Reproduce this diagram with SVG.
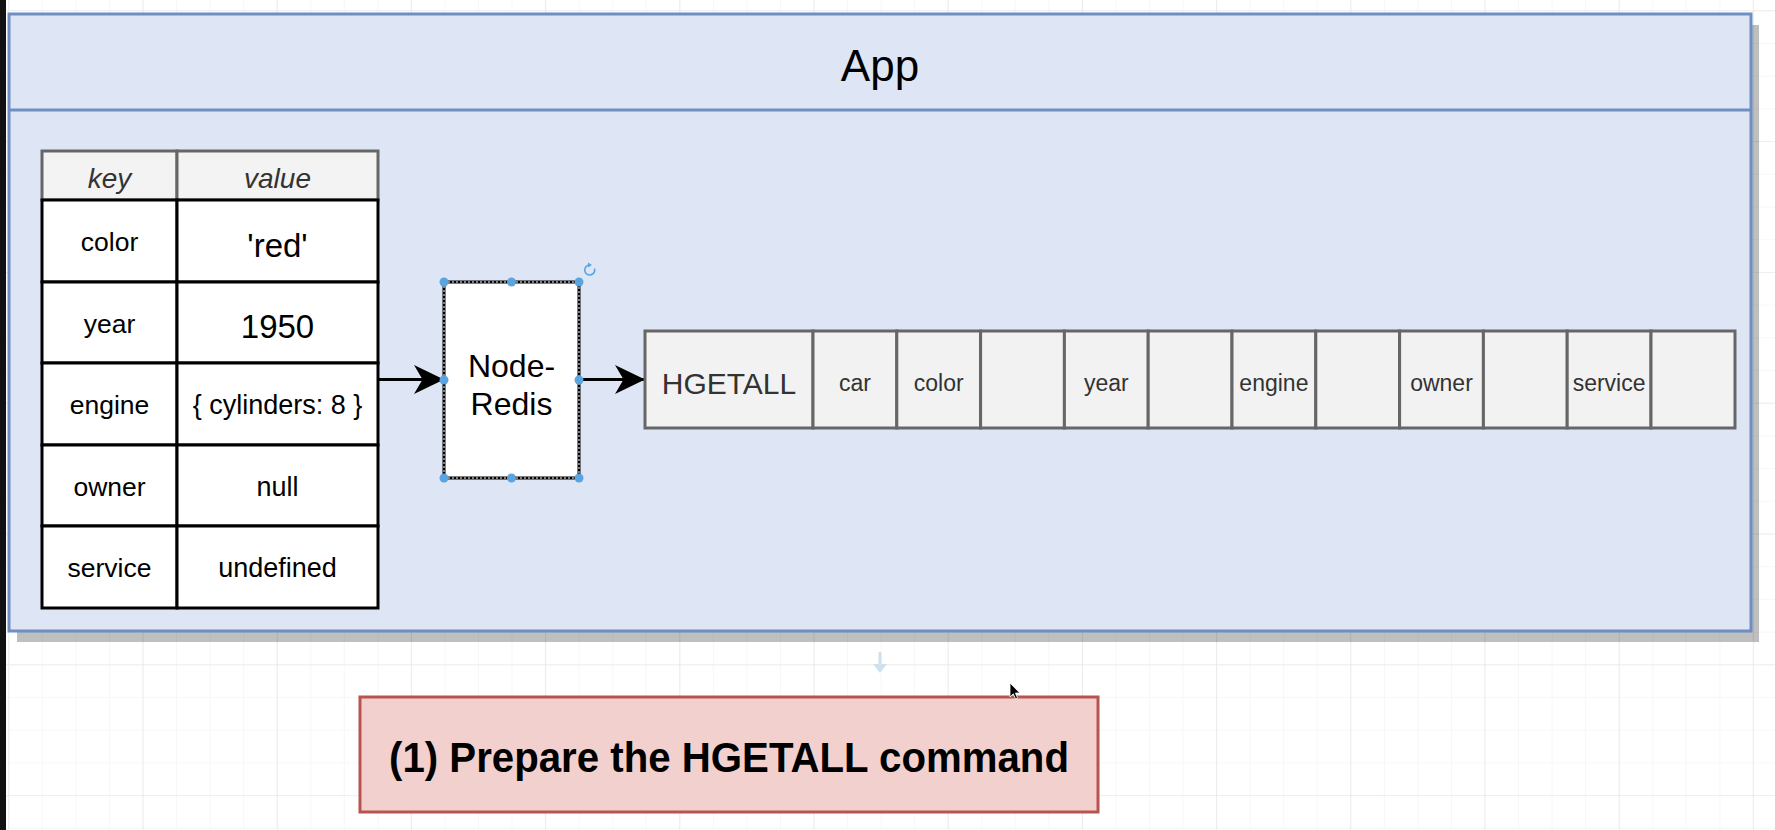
<svg xmlns="http://www.w3.org/2000/svg" width="1775" height="830" viewBox="0 0 1775 830">
  <defs>
    <pattern id="gridMinor" patternUnits="userSpaceOnUse" x="8.3" y="10.3" width="33.55" height="32.7">
      <path d="M0 0V32.7M0 0H33.55" fill="none" stroke="#efefef" stroke-width="1"/>
    </pattern>
    <pattern id="gridMajor" patternUnits="userSpaceOnUse" x="8.3" y="10.3" width="134.2" height="130.8">
      <path d="M0 0V130.8M0 0H134.2" fill="none" stroke="#e3e3e3" stroke-width="1.2"/>
    </pattern>
    <marker id="classic" viewBox="0 0 30 30" refX="30" refY="15" markerWidth="30" markerHeight="30" markerUnits="userSpaceOnUse" orient="auto">
      <path d="M30 15L0 0.5L8.5 15L0 29.5Z" fill="#000"/>
    </marker>
    <style>
      .sans { font-family: "Liberation Sans", Arial, Helvetica, sans-serif; }
      .cell-head { fill: #f3f3f3; stroke: #666; stroke-width: 3; }
      .cell { fill: #fff; stroke: #000; stroke-width: 3; }
      .slot { fill: #f2f2f2; stroke: #666; stroke-width: 3; }
      .head-txt { font-size: 28px; font-style: italic; fill: #333; text-anchor: middle; }
      .key-txt { font-size: 26.5px; fill: #000; text-anchor: middle; }
      .val-txt { font-size: 27px; fill: #000; text-anchor: middle; }
      .big-txt { font-size: 33px; fill: #000; text-anchor: middle; }
      .slot-txt { font-size: 23px; fill: #333; text-anchor: middle; }
      .handle { fill: #5aa5e0; }
      .edge { fill: none; stroke: #000; stroke-width: 3; marker-end: url(#classic); }
    </style>
  </defs>

  <!-- canvas grid -->
  <rect x="0" y="0" width="1775" height="830" fill="#fff"/>
  <rect x="0" y="0" width="1775" height="830" fill="url(#gridMinor)"/>
  <rect x="0" y="0" width="1775" height="830" fill="url(#gridMajor)"/>
  <rect x="0" y="0" width="6" height="830" fill="#111"/>

  <!-- App container -->
  <g id="app">
    <rect x="17" y="25" width="1742" height="617" fill="#000" fill-opacity="0.25"/>
    <rect x="9" y="14" width="1742" height="617" fill="#dee6f6" stroke="#6f8ec2" stroke-width="3"/>
    <line x1="9" y1="110" x2="1751" y2="110" stroke="#6f8ec2" stroke-width="3"/>
    <text class="sans" x="880" y="81" font-size="44" text-anchor="middle" fill="#000">App</text>
  </g>

  <!-- key/value table -->
  <g id="table">
    <rect class="cell-head" x="42" y="151" width="135" height="49"/>
    <rect class="cell-head" x="177" y="151" width="201" height="49"/>
    <text class="sans head-txt" x="109.5" y="188">key</text>
    <text class="sans head-txt" x="277.5" y="188">value</text>

    <rect class="cell" x="42" y="200" width="135" height="82"/>
    <rect class="cell" x="177" y="200" width="201" height="82"/>
    <rect class="cell" x="42" y="282" width="135" height="81"/>
    <rect class="cell" x="177" y="282" width="201" height="81"/>
    <rect class="cell" x="42" y="363" width="135" height="82"/>
    <rect class="cell" x="177" y="363" width="201" height="82"/>
    <rect class="cell" x="42" y="445" width="135" height="81"/>
    <rect class="cell" x="177" y="445" width="201" height="81"/>
    <rect class="cell" x="42" y="526" width="135" height="82"/>
    <rect class="cell" x="177" y="526" width="201" height="82"/>

    <text class="sans key-txt" x="109.5" y="251">color</text>
    <text class="sans big-txt" x="277.5" y="257">'red'</text>
    <text class="sans key-txt" x="109.5" y="333">year</text>
    <text class="sans big-txt" x="277.5" y="338">1950</text>
    <text class="sans key-txt" x="109.5" y="414">engine</text>
    <text class="sans val-txt" x="277.5" y="414">{ cylinders: 8 }</text>
    <text class="sans key-txt" x="109.5" y="496">owner</text>
    <text class="sans val-txt" x="277.5" y="496">null</text>
    <text class="sans key-txt" x="109.5" y="577">service</text>
    <text class="sans val-txt" x="277.5" y="577">undefined</text>
  </g>

  <!-- connectors -->
  <g id="connectors">
    <line class="edge" x1="378" y1="379.5" x2="444" y2="379.5"/>
    <line class="edge" x1="579" y1="379.5" x2="645" y2="379.5"/>
  </g>

  <!-- Node-Redis client (selected) -->
  <g id="node-redis">
    <rect x="444" y="282" width="135" height="196" fill="#fff" stroke="#000" stroke-width="3"/>
    <rect x="444" y="282" width="135" height="196" fill="none" stroke="#fff" stroke-width="1" stroke-dasharray="2 2"/>
    <text class="sans" x="511.5" y="377" font-size="32" text-anchor="middle" fill="#000">Node-</text>
    <text class="sans" x="511.5" y="415" font-size="32" text-anchor="middle" fill="#000">Redis</text>
    <circle class="handle" cx="444" cy="282" r="4.5"/>
    <circle class="handle" cx="511.5" cy="282" r="4.5"/>
    <circle class="handle" cx="579" cy="282" r="4.5"/>
    <circle class="handle" cx="444" cy="380" r="4.5"/>
    <circle class="handle" cx="579" cy="380" r="4.5"/>
    <circle class="handle" cx="444" cy="478" r="4.5"/>
    <circle class="handle" cx="511.5" cy="478" r="4.5"/>
    <circle class="handle" cx="579" cy="478" r="4.5"/>
    <path d="M594.5 268.5A5 5 0 1 1 589.5 265" fill="none" stroke="#5aa5e0" stroke-width="1.6"/>
    <path d="M588 262.5L592 265L588 267.5Z" fill="#5aa5e0"/>
  </g>

  <!-- HGETALL command slots -->
  <g id="command">
    <rect class="slot" x="645" y="331" width="168" height="97"/>
    <rect class="slot" x="813" y="331" width="83.8" height="97"/>
    <rect class="slot" x="896.8" y="331" width="83.8" height="97"/>
    <rect class="slot" x="980.6" y="331" width="83.8" height="97"/>
    <rect class="slot" x="1064.4" y="331" width="83.8" height="97"/>
    <rect class="slot" x="1148.2" y="331" width="83.8" height="97"/>
    <rect class="slot" x="1232" y="331" width="83.8" height="97"/>
    <rect class="slot" x="1315.8" y="331" width="83.8" height="97"/>
    <rect class="slot" x="1399.6" y="331" width="83.8" height="97"/>
    <rect class="slot" x="1483.4" y="331" width="83.8" height="97"/>
    <rect class="slot" x="1567.2" y="331" width="83.8" height="97"/>
    <rect class="slot" x="1651" y="331" width="84" height="97"/>
    <text class="sans" x="729" y="394" font-size="30" text-anchor="middle" fill="#333">HGETALL</text>
    <text class="sans slot-txt" x="854.9" y="391">car</text>
    <text class="sans slot-txt" x="938.7" y="391">color</text>
    <text class="sans slot-txt" x="1106.3" y="391">year</text>
    <text class="sans slot-txt" x="1273.9" y="391">engine</text>
    <text class="sans slot-txt" x="1441.5" y="391">owner</text>
    <text class="sans slot-txt" x="1609.1" y="391">service</text>
  </g>

  <!-- step caption -->
  <g id="step-1">
    <rect x="360" y="697" width="738" height="115" fill="#f2d0cd" stroke="#b85450" stroke-width="3"/>
    <text class="sans" x="729" y="772" font-size="42" font-weight="bold" text-anchor="middle" fill="#000" textLength="680" lengthAdjust="spacingAndGlyphs">(1) Prepare the HGETALL command</text>
  </g>

  <!-- drop hint and pointer -->
  <g id="hint">
    <rect x="878.5" y="652" width="3" height="13" fill="#cfe0ee"/>
    <path d="M873 664H887L880 673Z" fill="#cfe0ee"/>
  </g>
  <g id="pointer">
    <path d="M1010 683V697L1013.3 693.8L1015.6 699L1017.6 698.1L1015.4 693H1019.8Z" fill="#000" stroke="#fff" stroke-width="0.8"/>
  </g>
</svg>
